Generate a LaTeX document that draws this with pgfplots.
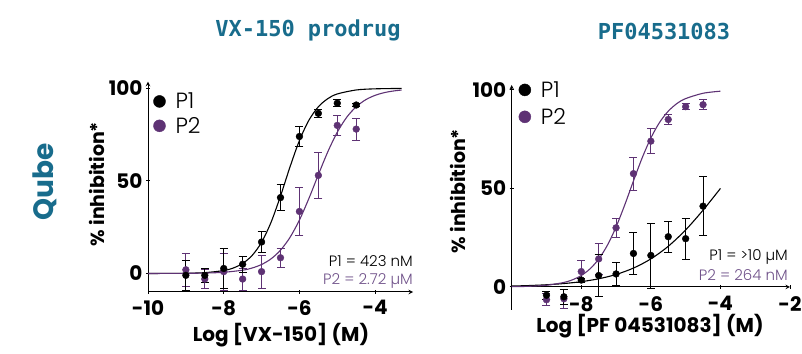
\documentclass[border=0pt]{standalone}
\usepackage{pgfplots}
\pgfplotsset{compat=1.18}
\usepackage{fontspec}
\setmainfont{Poppins}
\newfontfamily\thin{Poppins Light}
\newfontfamily\monof{DejaVu Sans Mono}
\definecolor{teal}{RGB}{24,108,140}
\definecolor{purp}{RGB}{94,50,116}
\definecolor{purptext}{RGB}{112,82,138}
\pgfplotsset{
  common/.style={
    scale only axis,
    anchor=south west,
    axis line style={-, line width=1pt},
    tick style={black, line width=0.9pt},
    major tick length=4pt,
    tick align=outside,
    tick label style={font=\bfseries\fontsize{20}{22}\selectfont},
    ytick={0,50,100}, yticklabels={0,50,100},
    clip=false,
    reverse legend,
    legend cell align=left,
    legend image code/.code={\draw[mark repeat=1,mark phase=1,##1,mark size=6pt] plot coordinates {(0pt,0pt)};},
    legend style={draw=none, fill=none, inner sep=0pt,
      font=\thin\fontsize{22}{24}\selectfont,
      /tikz/every odd column/.append style={column sep=8pt}},
  },
  curve/.style={line width=1.1pt, no marks, smooth, forget plot},
  pts/.style={only marks, mark=*, mark size=3.4pt,
    error bars/.cd, y dir=both, y explicit,
    error bar style={line width=0.8pt},
    error mark options={rotate=90, mark size=4pt, line width=0.8pt}},
}
\begin{document}
\begin{tikzpicture}
\path[use as bounding box] (0,0) rectangle (802pt,353pt);
% ---------- left panel ----------
\begin{axis}[common,
  at={(148pt,61pt)}, width=265pt, height=210.3pt,
  xmin=-10, xmax=-3, ymin=-10, ymax=103.6,
  axis lines=left,
  xtick={-10,-8,-6,-4}, xticklabels={-10,-8,-6,-4},
  xticklabel style={yshift=-3pt},
  legend style={at={(axis cs:-9.86,98.8)}, anchor=north west, row sep=3pt},
]
\addplot[curve, black] coordinates {(-10,0.01)(-9.5,0.036)(-9,0.128)(-8.5,0.45)(-8,1.58)(-7.75,2.94)(-7.5,5.41)(-7.25,9.72)(-7,16.86)(-6.75,27.64)(-6.5,41.84)(-6.25,57.5)(-6,71.84)(-5.75,82.78)(-5.5,90.06)(-5.25,94.46)(-5,96.98)(-4.5,99.13)(-4,99.75)(-3.3,99.96)};
\addplot[curve, purp] coordinates {(-10,0.01)(-9.5,0.029)(-9,0.081)(-8.5,0.228)(-8,0.64)(-7.5,1.78)(-7.25,2.95)(-7,4.85)(-6.75,7.9)(-6.5,12.59)(-6.25,19.47)(-6,28.87)(-5.75,40.53)(-5.5,53.37)(-5.25,65.76)(-5,76.33)(-4.75,84.41)(-4.5,90.09)(-4.25,93.85)(-4,96.24)(-3.75,97.73)(-3.5,98.63)(-3.3,99.09)};
\addplot[purp, pts] coordinates {(-9,2)+-(0,9) (-8.5,-3)+-(0,5) (-8,1)+-(0,10) (-7.5,-3)+-(0,6) (-7,1)+-(0,9) (-6.5,8.5)+-(0,5) (-6,33.5)+-(0,13) (-5.5,53)+-(0,12.5) (-5,80)+-(0,5.5) (-4.5,78)+-(0,6)};
\addplot[black, pts] coordinates {(-9,-1)+-(0,8) (-8.5,-1)+-(0,4) (-8,2.7)+-(0,11) (-7.5,5)+-(0,4.5) (-7,17)+-(0,5.5) (-6.5,41)+-(0,7) (-6,74)+-(0,5.5) (-5.5,86.5)+-(0,2) (-5,92)+-(0,2) (-4.5,91)+-(0,0.8)};
\legend{P2,P1}
\end{axis}
% ---------- right panel ----------
\begin{axis}[common,
  at={(511.7pt,43pt)}, width=278.3pt, height=225pt,
  xmin=-10, xmax=-2, ymin=-11.7, ymax=102.5,
  axis y line=left, axis x line=middle,
  xtick={-8,-6,-4,-2}, xticklabels={-8,-6,-4,-2},
  xticklabel style={yshift=-4pt},
  legend style={at={(axis cs:-9.8,105.5)}, anchor=north west, row sep=5.5pt},
]
\addplot[curve, black] coordinates {(-10,0.455)(-9.5,0.711)(-9,1.11)(-8.5,1.73)(-8,2.68)(-7.5,4.14)(-7,6.33)(-6.5,9.58)(-6,14.23)(-5.5,20.63)(-5,28.94)(-4.5,38.96)(-4,50)};
\addplot[curve, purp] coordinates {(-10,0.123)(-9.5,0.327)(-9,0.866)(-8.5,2.27)(-8.25,3.65)(-8,5.82)(-7.75,9.17)(-7.5,14.12)(-7.25,21.16)(-7,30.45)(-6.75,41.67)(-6.5,53.8)(-6.25,65.5)(-6,75.6)(-5.75,83.5)(-5.5,89.2)(-5.25,93.1)(-5,95.6)(-4.5,98.3)(-4,99.36)};
\addplot[purp, pts] coordinates {(-9,-6.5)+-(0,3) (-8.5,-6)+-(0,5) (-8,7.8)+-(0,5.5) (-7.5,14.2)+-(0,8) (-7,30)+-(0,4.7) (-6.5,57.5)+-(0,8.3) (-6,74)+-(0,6.3) (-5.5,85)+-(0,2.5) (-5,91.5)+-(0,1.5) (-4.5,92.5)+-(0,2.5)};
\addplot[black, pts] coordinates {(-9,-4.2)+-(0,2) (-8.5,-5)+-(0,4) (-8,3.5)+-(0,1) (-7.5,5.8)+-(0,10.5) (-7,6.6)+-(0,6) (-6.5,17)+-(0,10.5) (-6,16)+-(0,16.5) (-5.5,25.5)+-(0,8) (-5,24.5)+-(0,10.5) (-4.5,41)+-(0,15)};
\legend{P2,P1}
\end{axis}
% ---------- texts ----------
\node[font=\monof\bfseries\fontsize{22}{24}\selectfont, text=teal] at (308pt,323pt) {VX-150 prodrug};
\node[font=\monof\bfseries\fontsize{22}{24}\selectfont, text=teal] at (664pt,322pt) {PF04531083};
\node[font=\bfseries\fontsize{28}{30}\selectfont, text=teal, rotate=90] at (45pt,171pt) {Qube};
\node[font=\bfseries\fontsize{19}{21}\selectfont, rotate=90] at (97pt,169pt) {\% inhibition*};
\node[font=\bfseries\fontsize{19}{21}\selectfont, rotate=90] at (458pt,162pt) {\% inhibition*};
\node[font=\bfseries\fontsize{20}{22}\selectfont, anchor=base] at (281pt,11.5pt) {Log [VX-150] (M)};
\node[font=\bfseries\fontsize{20}{22}\selectfont, anchor=base] at (650pt,20pt) {Log [PF 04531083] (M)};
\node[font=\thin\fontsize{15}{17}\selectfont, anchor=base east, inner sep=0pt] at (413pt,86.3pt) {P1 = 423 nM};
\node[font=\thin\fontsize{15}{17}\selectfont, anchor=base east, inner sep=0pt, text=purptext] at (413pt,68pt) {P2 = 2.72 µM};
\node[font=\thin\fontsize{15}{17}\selectfont, anchor=base east, inner sep=0pt] at (788pt,92pt) {P1 = >10 µM};
\node[font=\thin\fontsize{15}{17}\selectfont, anchor=base east, inner sep=0pt, text=purptext] at (788pt,72pt) {P2 = 264 nM};
\end{tikzpicture}
\end{document}
